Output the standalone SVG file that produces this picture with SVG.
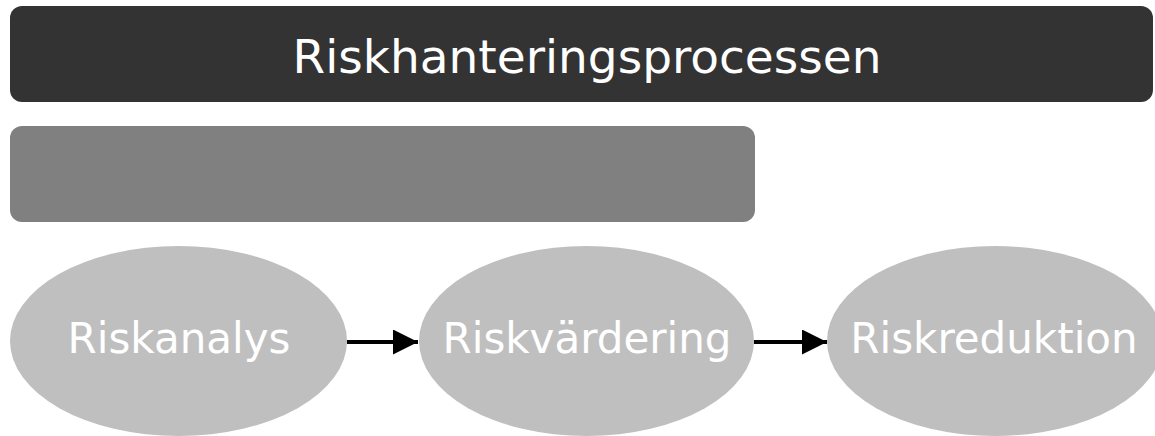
<svg xmlns="http://www.w3.org/2000/svg" width="1155" height="436" viewBox="0 0 1155 436">
  <style>
    .lbl { font-family: "DejaVu Sans", Verdana, sans-serif; fill: #ffffff; text-anchor: middle; }
    .node { fill: #bfbfbf; }
    .conn { stroke: #000000; stroke-width: 4; fill: none; }
  </style>
  <defs>
    <marker id="arrow" markerUnits="userSpaceOnUse" markerWidth="26" markerHeight="26" refX="25" refY="12.5" orient="auto">
      <path d="M0,0 L25,12.5 L0,25 Z" fill="#000000"/>
    </marker>
  </defs>
  <rect width="1155" height="436" fill="#ffffff"/>
  <g id="title">
    <rect x="10" y="6" width="1143" height="96" rx="12" fill="#333333"/>
    <text class="lbl" x="587" y="73" font-size="47">Riskhanteringsprocessen</text>
  </g>
  <g id="subbar">
    <rect x="10" y="126" width="745" height="96" rx="12" fill="#808080"/>
  </g>
  <g id="riskanalys">
    <ellipse class="node" cx="178.5" cy="341" rx="168.5" ry="95"/>
    <text class="lbl" x="179" y="353" font-size="42">Riskanalys</text>
  </g>
  <g id="riskvardering">
    <ellipse class="node" cx="586.5" cy="341" rx="167.5" ry="95"/>
    <text class="lbl" x="587" y="353" font-size="42">Riskvärdering</text>
  </g>
  <g id="riskreduktion">
    <ellipse class="node" cx="995" cy="341" rx="168" ry="95"/>
    <text class="lbl" x="994" y="353" font-size="42">Riskreduktion</text>
  </g>
  <g id="connectors">
    <line class="conn" x1="347" y1="342" x2="418" y2="342" marker-end="url(#arrow)"/>
    <line class="conn" x1="754" y1="342" x2="827" y2="342" marker-end="url(#arrow)"/>
  </g>
</svg>
